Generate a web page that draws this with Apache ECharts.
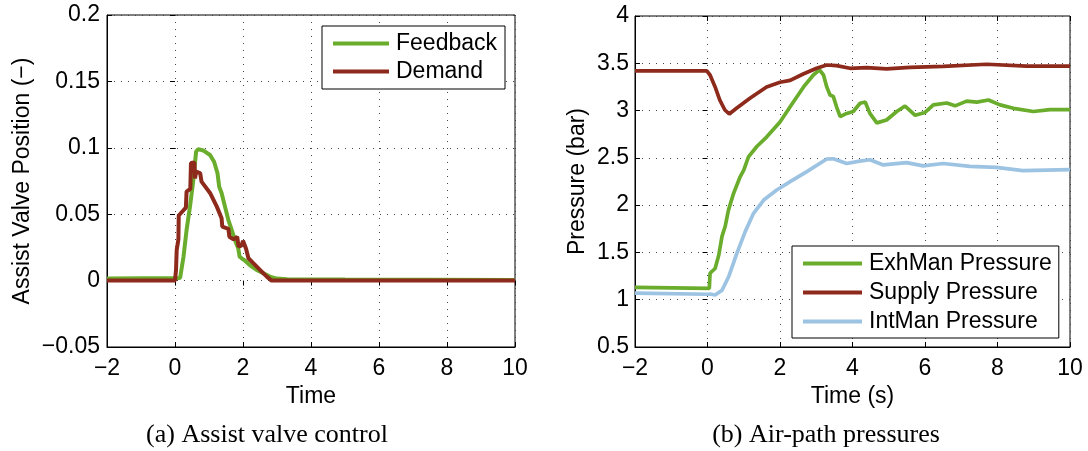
<!DOCTYPE html>
<html>
<head>
<meta charset="utf-8">
<script src="https://cdn.jsdelivr.net/npm/echarts@6/dist/echarts.min.js"></script>
<style>
  html, body { margin: 0; padding: 0; background: #fff; }
  #chart { width: 1088px; height: 451px; }
</style>
</head>
<body>
<div id="chart"></div>
<script>
// ---- (a) Assist valve control ----
const feedbackT = [-2, 0.15, 0.25, 0.34, 0.44, 0.54, 0.62, 0.68, 0.83, 1.03, 1.15, 1.25, 1.3, 1.37, 1.47, 1.57, 1.67, 1.76, 1.86, 1.9, 1.96, 2.06, 2.2, 2.4, 2.6, 2.79, 2.99, 3.3, 5, 10];
const feedbackV = [0.0015, 0.002, 0.018, 0.038, 0.0557, 0.0757, 0.097, 0.099, 0.098, 0.0946, 0.0895, 0.0808, 0.0707, 0.066, 0.0557, 0.0456, 0.038, 0.0306, 0.0243, 0.018, 0.0168, 0.015, 0.0117, 0.008, 0.0055, 0.003, 0.0015, 0.001, 0.0008, 0.0005];

const demandT = [-2, 0.0, 0.03, 0.05, 0.1, 0.11, 0.25, 0.32, 0.34, 0.45, 0.47, 0.57, 0.59, 0.62, 0.74, 0.78, 1.03, 1.23, 1.37, 1.39, 1.57, 1.6, 1.72, 1.83, 1.87, 1.96, 2.0, 2.09, 2.16, 2.31, 2.5, 2.7, 2.84, 10];
const demandV = [0, 0, 0.008, 0.023, 0.031, 0.049, 0.053, 0.055, 0.067, 0.069, 0.0885, 0.089, 0.077, 0.082, 0.081, 0.0745, 0.066, 0.0557, 0.047, 0.0406, 0.039, 0.033, 0.031, 0.033, 0.0255, 0.0265, 0.03, 0.024, 0.0168, 0.013, 0.008, 0.003, 0, 0];

// ---- (b) Air-path pressures ----
const exhT = [-2, 0.05, 0.07, 0.21, 0.31, 0.4, 0.49, 0.58, 0.72, 0.9, 1.0, 1.13, 1.36, 1.63, 2.0, 2.28, 2.65, 2.92, 3.09, 3.2, 3.29, 3.38, 3.47, 3.56, 3.66, 3.84, 4.02, 4.21, 4.35, 4.48, 4.67, 4.94, 5.22, 5.45, 5.73, 6.0, 6.23, 6.6, 6.83, 7.15, 7.43, 7.75, 8.07, 8.44, 8.99, 9.45, 10];
const exhV = [1.13, 1.12, 1.28, 1.33, 1.47, 1.67, 1.78, 1.95, 2.125, 2.30, 2.37, 2.51, 2.62, 2.72, 2.88, 3.04, 3.25, 3.376, 3.43, 3.376, 3.25, 3.165, 3.15, 3.04, 2.935, 2.97, 2.99, 3.077, 3.09, 2.97, 2.87, 2.90, 2.99, 3.048, 2.95, 2.98, 3.06, 3.08, 3.05, 3.10, 3.09, 3.112, 3.06, 3.024, 2.99, 3.01, 3.01];

const supplyT = [-2, -0.02, 0.07, 0.21, 0.34, 0.48, 0.60, 0.80, 1.17, 1.63, 2.0, 2.28, 2.64, 3.01, 3.29, 3.56, 3.93, 4.39, 4.94, 5.59, 6.5, 7.7, 8.8, 10];
const supplyV = [3.42, 3.42, 3.376, 3.25, 3.11, 3.006, 2.964, 3.024, 3.13, 3.25, 3.30, 3.32, 3.387, 3.447, 3.482, 3.475, 3.447, 3.455, 3.44, 3.456, 3.468, 3.49, 3.47, 3.47];

const intT = [-2, 0.0, 0.07, 0.21, 0.4, 0.58, 0.81, 1.04, 1.27, 1.55, 1.91, 2.28, 2.74, 3.29, 3.47, 3.84, 4.2, 4.48, 4.85, 5.49, 5.95, 6.5, 7.24, 7.97, 8.7, 9.35, 10];
const intV = [1.07, 1.058, 1.06, 1.05, 1.10, 1.24, 1.49, 1.72, 1.914, 2.054, 2.16, 2.248, 2.354, 2.488, 2.49, 2.44, 2.465, 2.48, 2.425, 2.45, 2.415, 2.44, 2.41, 2.40, 2.365, 2.37, 2.375];

const xTicks = { min: -2, max: 10, interval: 2 };
const yTicksA = { min: -0.05, max: 0.2, interval: 0.05 };
const yTicksB = { min: 0.5, max: 4, interval: 0.5 };

const GREEN = '#6aad2c';
const RED = '#8d2a1b';
const BLUE = '#9dc3e3';
const FONT = '"Liberation Sans", Arial, Helvetica, sans-serif';
const FS = 23;

const zip = (t, v) => t.map((x, i) => [x, v[i]]);
const minus = v => String(+v.toFixed(4)).replace('-', '\u2212');

const dotted = { show: true, lineStyle: { color: '#444', width: 1, type: [1, 6] } };
const tick = { show: true, inside: true, length: 5, lineStyle: { color: '#000', width: 1 } };
const labelStyle = { fontFamily: FONT, fontSize: FS, color: '#000' };

function mainX(grid, name) {
  return {
    gridIndex: grid, type: 'value', position: 'bottom', ...xTicks,
    axisLine: { show: true, onZero: false, lineStyle: { color: '#000', width: 1 } },
    axisTick: tick, splitLine: dotted,
    axisLabel: { ...labelStyle, margin: 10, formatter: minus, showMinLabel: true, showMaxLabel: true },
    name: name, nameLocation: 'middle', nameGap: 36,
    nameTextStyle: { fontFamily: FONT, fontSize: FS, color: '#000' }
  };
}
function mirrorX(grid) {
  return {
    gridIndex: grid, type: 'value', position: 'top', ...xTicks,
    axisLine: { show: false }, axisTick: tick, splitLine: { show: false }, axisLabel: { show: false }
  };
}
function mainY(grid, ticks, name, gap, margin) {
  return {
    gridIndex: grid, type: 'value', position: 'left', ...ticks,
    axisLine: { show: true, onZero: false, lineStyle: { color: '#000', width: 1 } },
    axisTick: tick, splitLine: dotted,
    axisLabel: { ...labelStyle, margin: margin, formatter: minus, showMinLabel: true, showMaxLabel: true },
    name: name, nameLocation: 'middle', nameGap: gap,
    nameTextStyle: { fontFamily: FONT, fontSize: FS, color: '#000' }
  };
}
function mirrorY(grid, ticks) {
  return {
    gridIndex: grid, type: 'value', position: 'right', ...ticks,
    axisLine: { show: false }, axisTick: tick, splitLine: { show: false }, axisLabel: { show: false }
  };
}
function line(name, data, color, width, xi, yi) {
  return {
    name: name, type: 'line', data: data, xAxisIndex: xi, yAxisIndex: yi,
    showSymbol: false, symbol: 'none', animation: false,
    lineStyle: { color: color, width: width }, itemStyle: { color: color }
  };
}
const legendBase = {
  orient: 'vertical', icon: 'rect', itemWidth: 56, itemHeight: 4, itemGap: 5,
  backgroundColor: '#fff', borderColor: '#000', borderWidth: 1,
  selectedMode: false,
  textStyle: { fontFamily: FONT, fontSize: FS, color: '#000', padding: [0, 0, 0, 2] }
};

const chart = echarts.init(document.getElementById('chart'), null, { renderer: 'canvas' });
chart.setOption({
  backgroundColor: '#fff',
  animation: false,
  grid: [
    { left: 107, top: 15, width: 408, height: 332, show: true, borderColor: '#000', borderWidth: 1, backgroundColor: 'transparent' },
    { left: 635, top: 16, width: 435, height: 331, show: true, borderColor: '#000', borderWidth: 1, backgroundColor: 'transparent' }
  ],
  xAxis: [mainX(0, 'Time'), mirrorX(0), mainX(1, 'Time (s)'), mirrorX(1)],
  yAxis: [
    mainY(0, yTicksA, 'Assist Valve Position (\u2212)', 73, 7), mirrorY(0, yTicksA),
    mainY(1, yTicksB, 'Pressure (bar)', 46, 6), mirrorY(1, yTicksB)
  ],
  legend: [
    { ...legendBase, left: 322, top: 26, padding: [6, 8, 6, 11], data: ['Feedback', 'Demand'] },
    { ...legendBase, left: 792, top: 246, padding: [6, 7, 5, 11], itemWidth: 59, itemGap: 6,
      data: ['ExhMan Pressure', 'Supply Pressure', 'IntMan Pressure'] }
  ],
  series: [
    line('Feedback', zip(feedbackT, feedbackV), GREEN, 4, 0, 0),
    line('Demand', zip(demandT, demandV), RED, 4, 0, 0),
    line('ExhMan Pressure', zip(exhT, exhV), GREEN, 3.7, 2, 2),
    line('Supply Pressure', zip(supplyT, supplyV), RED, 3.7, 2, 2),
    line('IntMan Pressure', zip(intT, intV), BLUE, 3.7, 2, 2)
  ],
  graphic: [
    { type: 'text', x: 267, y: 435, style: { text: '(a) Assist valve control', align: 'center', verticalAlign: 'middle', font: '26px "Liberation Serif", "Times New Roman", serif', fill: '#000' } },
    { type: 'text', x: 826, y: 435, style: { text: '(b) Air-path pressures', align: 'center', verticalAlign: 'middle', font: '26px "Liberation Serif", "Times New Roman", serif', fill: '#000' } }
  ]
});
</script>
</body>
</html>
